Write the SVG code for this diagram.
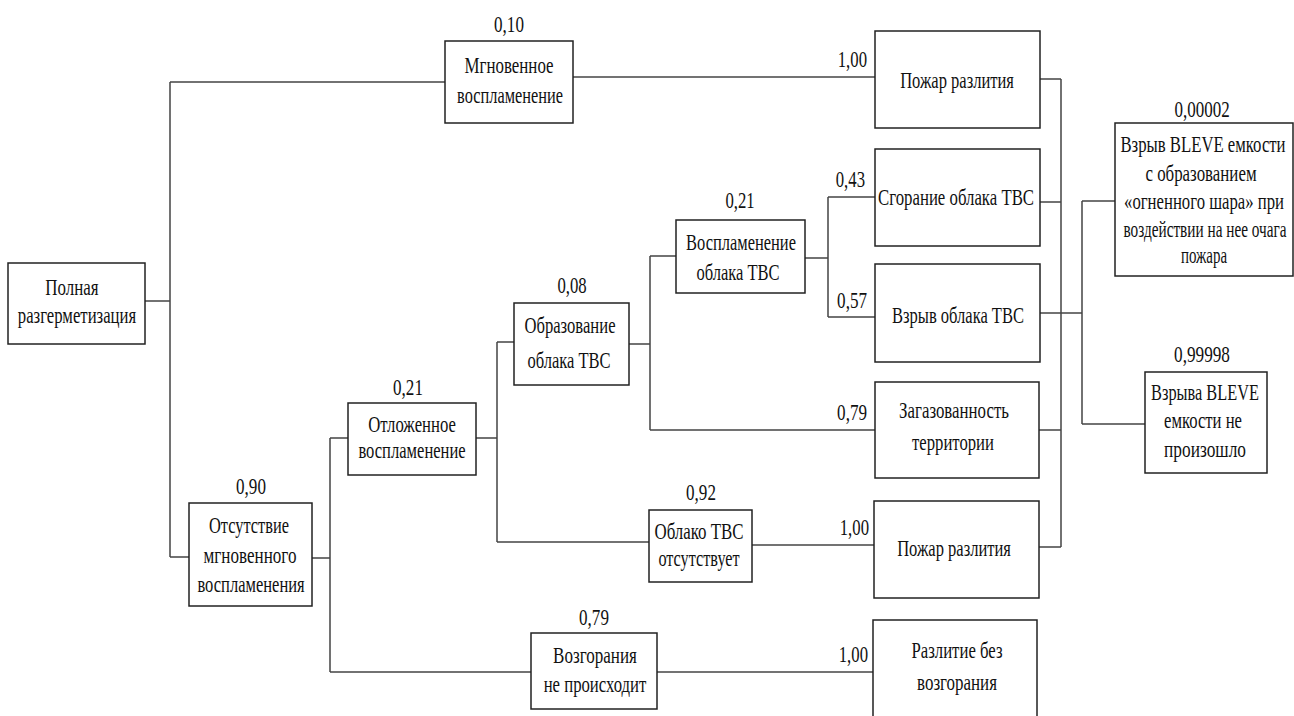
<svg xmlns="http://www.w3.org/2000/svg" width="1294" height="716" viewBox="0 0 1294 716">
<style>
.box{fill:#fff;stroke:#222;stroke-width:1.5}
.c{fill:none;stroke:#444;stroke-width:1.5}
.t{font-family:"Liberation Serif","Times New Roman",serif;font-size:24px;fill:#111}
.m{text-anchor:middle}
.e{text-anchor:end}
</style>
<rect width="1294" height="716" fill="#fff"/>
<g id="connectors" class="c">
<path d="M145,301 H170 M170,82 V557 M170,82 H445 M170,557 H189"/>
<path d="M573,77 H875"/>
<path d="M312,558 H330 M330,438 V672 M330,438 H348 M330,672 H531"/>
<path d="M476,438 H497 M497,342 V542 M497,342 H514 M497,542 H649"/>
<path d="M629,344 H650 M650,256 V430 M650,256 H676 M650,430 H875"/>
<path d="M805,258 H828 M828,197 V317 M828,197 H875 M828,317 H875"/>
<path d="M752,545 H874"/>
<path d="M657,672 H873"/>
<path d="M1040,79 H1061 M1040,202 H1061 M1040,313 H1082 M1039,430 H1061 M1039,547 H1061 M1061,79 V547"/>
<path d="M1082,201 V424 M1082,201 H1115 M1082,424 H1145"/>
</g>
<g id="labels" class="t">
<text class="m" transform="translate(509,32) scale(0.65,1)" textLength="46" lengthAdjust="spacingAndGlyphs">0,10</text>
<text class="e" transform="translate(867,67) scale(0.65,1)" textLength="45" lengthAdjust="spacingAndGlyphs">1,00</text>
<text class="e" transform="translate(865,187) scale(0.65,1)" textLength="45" lengthAdjust="spacingAndGlyphs">0,43</text>
<text class="e" transform="translate(867,308) scale(0.65,1)" textLength="46" lengthAdjust="spacingAndGlyphs">0,57</text>
<text class="m" transform="translate(740,208) scale(0.65,1)" textLength="45" lengthAdjust="spacingAndGlyphs">0,21</text>
<text class="m" transform="translate(572,293) scale(0.65,1)" textLength="45" lengthAdjust="spacingAndGlyphs">0,08</text>
<text class="m" transform="translate(408,395) scale(0.65,1)" textLength="46" lengthAdjust="spacingAndGlyphs">0,21</text>
<text class="m" transform="translate(251,494) scale(0.65,1)" textLength="46" lengthAdjust="spacingAndGlyphs">0,90</text>
<text class="e" transform="translate(867,420) scale(0.65,1)" textLength="46" lengthAdjust="spacingAndGlyphs">0,79</text>
<text class="m" transform="translate(701,500) scale(0.65,1)" textLength="46" lengthAdjust="spacingAndGlyphs">0,92</text>
<text class="e" transform="translate(869,535) scale(0.65,1)" textLength="45" lengthAdjust="spacingAndGlyphs">1,00</text>
<text class="m" transform="translate(594,625) scale(0.65,1)" textLength="46" lengthAdjust="spacingAndGlyphs">0,79</text>
<text class="e" transform="translate(868,662) scale(0.65,1)" textLength="45" lengthAdjust="spacingAndGlyphs">1,00</text>
<text class="m" transform="translate(1202,117) scale(0.65,1)" textLength="85" lengthAdjust="spacingAndGlyphs">0,00002</text>
<text class="m" transform="translate(1202,362) scale(0.65,1)" textLength="86" lengthAdjust="spacingAndGlyphs">0,99998</text>
</g>
<g id="n-root" class="t">
<rect class="box" x="8" y="263" width="137" height="81"/>
<text class="m" transform="translate(72,295) scale(0.65,1)" textLength="82" lengthAdjust="spacingAndGlyphs">Полная</text>
<text class="m" transform="translate(77,323) scale(0.65,1)" textLength="182" lengthAdjust="spacingAndGlyphs">разгерметизация</text>
</g>
<g id="n-instant" class="t">
<rect class="box" x="445" y="41" width="128" height="82"/>
<text class="m" transform="translate(509,73) scale(0.65,1)" textLength="137" lengthAdjust="spacingAndGlyphs">Мгновенное</text>
<text class="m" transform="translate(510,103) scale(0.65,1)" textLength="163" lengthAdjust="spacingAndGlyphs">воспламенение</text>
</g>
<g id="n-noinstant" class="t">
<rect class="box" x="189" y="503" width="123" height="103"/>
<text class="m" transform="translate(249,533) scale(0.65,1)" textLength="123" lengthAdjust="spacingAndGlyphs">Отсутствие</text>
<text class="m" transform="translate(250,563) scale(0.65,1)" textLength="143" lengthAdjust="spacingAndGlyphs">мгновенного</text>
<text class="m" transform="translate(251,592) scale(0.65,1)" textLength="165" lengthAdjust="spacingAndGlyphs">воспламенения</text>
</g>
<g id="n-delayed" class="t">
<rect class="box" x="348" y="403" width="128" height="72"/>
<text class="m" transform="translate(412,432) scale(0.65,1)" textLength="135" lengthAdjust="spacingAndGlyphs">Отложенное</text>
<text class="m" transform="translate(412,458) scale(0.65,1)" textLength="165" lengthAdjust="spacingAndGlyphs">воспламенение</text>
</g>
<g id="n-cloud" class="t">
<rect class="box" x="514" y="303" width="115" height="82"/>
<text class="m" transform="translate(570,333) scale(0.65,1)" textLength="140" lengthAdjust="spacingAndGlyphs">Образование</text>
<text class="m" transform="translate(569,368) scale(0.65,1)" textLength="128" lengthAdjust="spacingAndGlyphs">облака ТВС</text>
</g>
<g id="n-ignite" class="t">
<rect class="box" x="676" y="220" width="129" height="73"/>
<text class="m" transform="translate(741,250) scale(0.65,1)" textLength="169" lengthAdjust="spacingAndGlyphs">Воспламенение</text>
<text class="m" transform="translate(738,280) scale(0.65,1)" textLength="128" lengthAdjust="spacingAndGlyphs">облака ТВС</text>
</g>
<g id="n-nocloud" class="t">
<rect class="box" x="649" y="510" width="103" height="72"/>
<text class="m" transform="translate(699,539) scale(0.65,1)" textLength="137" lengthAdjust="spacingAndGlyphs">Облако ТВС</text>
<text class="m" transform="translate(699,566) scale(0.65,1)" textLength="125" lengthAdjust="spacingAndGlyphs">отсутствует</text>
</g>
<g id="n-nofire" class="t">
<rect class="box" x="531" y="633" width="126" height="76"/>
<text class="m" transform="translate(595,663) scale(0.65,1)" textLength="129" lengthAdjust="spacingAndGlyphs">Возгорания</text>
<text class="m" transform="translate(595,692) scale(0.65,1)" textLength="158" lengthAdjust="spacingAndGlyphs">не происходит</text>
</g>
<g id="n-pool1" class="t">
<rect class="box" x="875" y="31" width="165" height="97"/>
<text class="m" transform="translate(957,88) scale(0.65,1)" textLength="175" lengthAdjust="spacingAndGlyphs">Пожар разлития</text>
</g>
<g id="n-flash" class="t">
<rect class="box" x="875" y="149" width="165" height="97"/>
<text class="m" transform="translate(956,205) scale(0.65,1)" textLength="240" lengthAdjust="spacingAndGlyphs">Сгорание облака ТВС</text>
</g>
<g id="n-explosion" class="t">
<rect class="box" x="875" y="264" width="165" height="98"/>
<text class="m" transform="translate(958,323) scale(0.65,1)" textLength="203" lengthAdjust="spacingAndGlyphs">Взрыв облака ТВС</text>
</g>
<g id="n-gas" class="t">
<rect class="box" x="875" y="382" width="164" height="96"/>
<text class="m" transform="translate(954,418) scale(0.65,1)" textLength="169" lengthAdjust="spacingAndGlyphs">Загазованность</text>
<text class="m" transform="translate(953,450) scale(0.65,1)" textLength="126" lengthAdjust="spacingAndGlyphs">территории</text>
</g>
<g id="n-pool2" class="t">
<rect class="box" x="874" y="501" width="165" height="97"/>
<text class="m" transform="translate(954,556) scale(0.65,1)" textLength="175" lengthAdjust="spacingAndGlyphs">Пожар разлития</text>
</g>
<g id="n-spill" class="t">
<rect class="box" x="873" y="620" width="164" height="100"/>
<text class="m" transform="translate(957,658) scale(0.65,1)" textLength="140" lengthAdjust="spacingAndGlyphs">Разлитие без</text>
<text class="m" transform="translate(957,690) scale(0.65,1)" textLength="123" lengthAdjust="spacingAndGlyphs">возгорания</text>
</g>
<g id="n-bleve" class="t">
<rect class="box" x="1115" y="123" width="178" height="153"/>
<text class="m" transform="translate(1203,152) scale(0.65,1)" textLength="254" lengthAdjust="spacingAndGlyphs">Взрыв BLEVE емкости</text>
<text class="m" transform="translate(1201,181) scale(0.65,1)" textLength="171" lengthAdjust="spacingAndGlyphs">с образованием</text>
<text class="m" transform="translate(1204,209) scale(0.65,1)" textLength="246" lengthAdjust="spacingAndGlyphs">«огненного шара» при</text>
<text class="m" transform="translate(1205,237) scale(0.65,1)" textLength="251" lengthAdjust="spacingAndGlyphs">воздействии на нее очага</text>
<text class="m" transform="translate(1204,263) scale(0.65,1)" textLength="71" lengthAdjust="spacingAndGlyphs">пожара</text>
</g>
<g id="n-nobleve" class="t">
<rect class="box" x="1145" y="372" width="122" height="101"/>
<text class="m" transform="translate(1205,400) scale(0.65,1)" textLength="166" lengthAdjust="spacingAndGlyphs">Взрыва BLEVE</text>
<text class="m" transform="translate(1203,428) scale(0.65,1)" textLength="120" lengthAdjust="spacingAndGlyphs">емкости не</text>
<text class="m" transform="translate(1205,457) scale(0.65,1)" textLength="126" lengthAdjust="spacingAndGlyphs">произошло</text>
</g>
</svg>
